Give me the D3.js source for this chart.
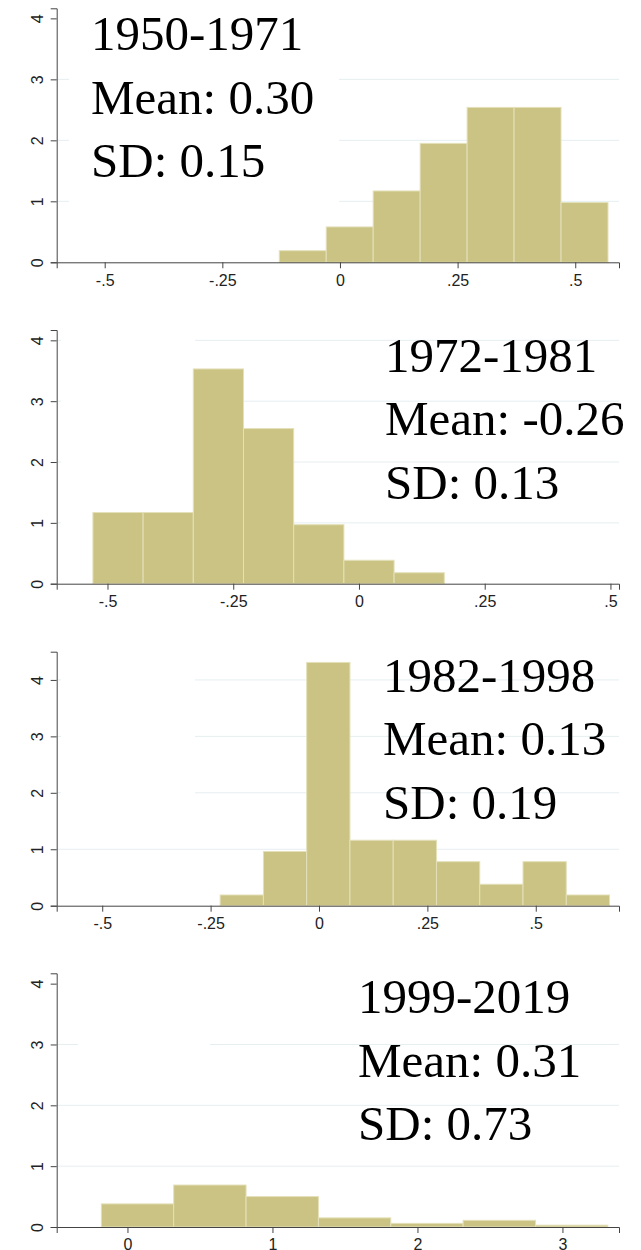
<!DOCTYPE html>
<html lang="en">
<head>
  <meta charset="UTF-8">
  <title>Histograms by period</title>
  <style>
    body { margin: 0; background: #fff; }
    .bar { fill: #cac383; stroke: #e4e0ba; stroke-width: 1; }
    .grid line { stroke: #e6eef0; stroke-width: 1; }
    .axis path, .axis line { stroke: #444; stroke-width: 1; }
    .axis text { font-family: "Liberation Sans", Arial, sans-serif; fill: #222; }
    .note { font-family: "Liberation Serif", "Times New Roman", serif; font-size: 49px; fill: #000; }
  </style>
</head>
<body>
  <div id="chart"></div>
  <script src="https://cdn.jsdelivr.net/npm/d3@7"></script>
  <script>
    // data
    var periods = ['1950-1971', '1972-1981', '1982-1998', '1999-2019'];
    var means = ['0.30', '-0.26', '0.13', '0.31'];
    var sds = ['0.15', '0.13', '0.19', '0.73'];
    var binStart = [-0.129, -0.529, -0.228, -0.18];
    var binWidth = [0.0998, 0.0998, 0.0998, 0.499];
    var density1 = [0.19, 0.58, 1.17, 1.95, 2.54, 2.54, 0.98];
    var density2 = [1.17, 1.17, 3.53, 2.55, 0.97, 0.385, 0.18];
    var density3 = [0.19, 0.96, 4.31, 1.16, 1.16, 0.78, 0.38, 0.78, 0.19];
    var density4 = [0.38, 0.69, 0.50, 0.15, 0.06, 0.11, 0.03];
    var xDomain = [[-0.602, 0.593], [-0.601, 0.517], [-0.605, 0.692], [-0.488, 3.39]];
    var xTicks = [[-0.5, -0.25, 0, 0.25, 0.5], [-0.5, -0.25, 0, 0.25, 0.5],
                  [-0.5, -0.25, 0, 0.25, 0.5], [0, 1, 2, 3]];
    var yTicks = [0, 1, 2, 3, 4];
    var yMax = [4.165, 4.17, 4.5, 4.17];
    var densities = [density1, density2, density3, density4];

    // layout
    var W = 641, H = 1250;
    var left = 56.7, right = 619;
    var panels = [
      { top: 8.3, bottom: 262.3, tx: 91, ty: 50 },
      { top: 330, bottom: 583.7, tx: 385, ty: 371.7 },
      { top: 651.7, bottom: 905.7, tx: 383, ty: 691.7 },
      { top: 973.3, bottom: 1227, tx: 358, ty: 1013.3 }
    ];
    // white patches that hide parts of the grid in the picture
    var covers = [
      [[69, 8, 270, 207], [57, 8, 570, 22]],
      [[61, 332, 134, 200]],
      [[61, 655, 134, 175]],
      [[57, 975, 570, 17], [78, 1036, 132, 18]]
    ];
    var lineGap = 63.5;

    var svg = d3.select('#chart').append('svg')
      .attr('width', W).attr('height', H);

    function fmt(d) {
      return String(d).replace('0.', '.');
    }

    panels.forEach(function (p, i) {
      var x = d3.scaleLinear().domain(xDomain[i]).range([left, right]);
      var y = d3.scaleLinear().domain([0, yMax[i]]).range([p.bottom, p.top]);
      var g = svg.append('g');

      g.append('g').attr('class', 'grid')
        .selectAll('line')
        .data(yTicks.filter(function (t) { return t > 0; }))
        .enter().append('line')
        .attr('x1', left).attr('x2', right)
        .attr('y1', function (d) { return y(d); })
        .attr('y2', function (d) { return y(d); });

      g.selectAll('rect.cover')
        .data(covers[i])
        .enter().append('rect')
        .attr('class', 'cover')
        .attr('x', function (d) { return d[0]; })
        .attr('y', function (d) { return d[1]; })
        .attr('width', function (d) { return d[2]; })
        .attr('height', function (d) { return d[3]; })
        .attr('fill', '#fff');

      var bins = densities[i].map(function (v, k) {
        return { x0: binStart[i] + k * binWidth[i], x1: binStart[i] + (k + 1) * binWidth[i], v: v };
      });
      g.selectAll('rect.bar')
        .data(bins)
        .enter().append('rect')
        .attr('class', 'bar')
        .attr('x', function (d) { return x(d.x0); })
        .attr('width', function (d) { return x(d.x1) - x(d.x0); })
        .attr('y', function (d) { return y(d.v); })
        .attr('height', function (d) { return y(0) - y(d.v); });

      var xa = g.append('g').attr('class', 'axis')
        .attr('transform', 'translate(0,' + p.bottom + ')')
        .call(d3.axisBottom(x).tickValues(xTicks[i]).tickFormat(fmt).tickSizeOuter(0).tickSize(6).tickPadding(6));
      xa.selectAll('text').style('font-size', '16px');

      var ya = g.append('g').attr('class', 'axis')
        .attr('transform', 'translate(' + left + ',0)')
        .call(d3.axisLeft(y).tickValues(yTicks).tickFormat(d3.format('d')).tickSizeOuter(0).tickSize(6).tickPadding(0));
      ya.selectAll('text')
        .style('font-size', '16px')
        .attr('text-anchor', 'middle')
        .attr('x', null).attr('dy', null)
        .attr('transform', 'translate(-14,0) rotate(-90)');

      var lines = [periods[i], 'Mean: ' + means[i], 'SD: ' + sds[i]];
      g.selectAll('text.note')
        .data(lines)
        .enter().append('text')
        .attr('class', 'note')
        .attr('x', p.tx)
        .attr('y', function (d, k) { return p.ty + k * lineGap; })
        .text(function (d) { return d; });
    });
  </script>
</body>
</html>
